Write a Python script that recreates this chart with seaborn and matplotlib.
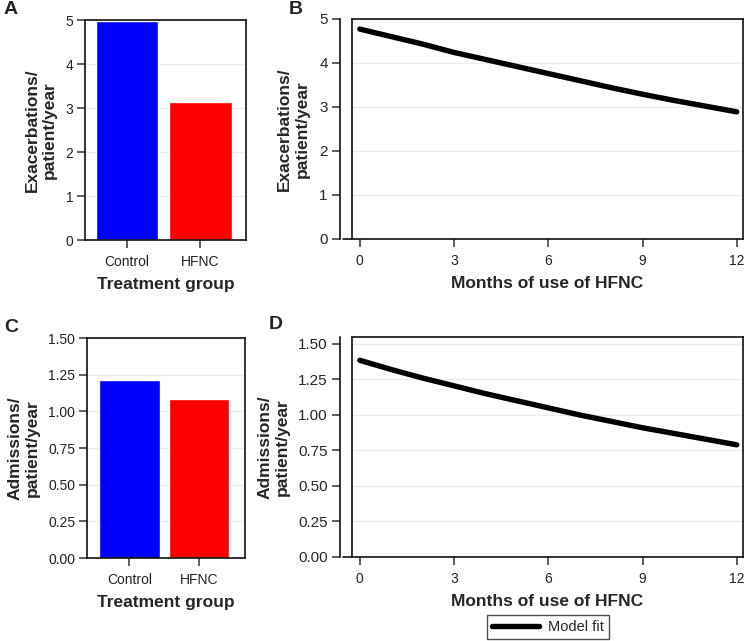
import numpy as np
import pandas as pd
import matplotlib
matplotlib.use("Agg")
import matplotlib.pyplot as plt
import seaborn as sns

# ---- data ----
groups = ["Control", "HFNC"]
exacerbations = [4.97, 3.13]
admissions = [1.215, 1.082]
months = [0, 1, 2, 3, 4, 5, 6, 7, 8, 9, 10, 11, 12]
exac_fit = [4.77, 4.60, 4.43, 4.24, 4.08, 3.92, 3.76, 3.60, 3.44, 3.29, 3.15, 3.02, 2.89]
adm_fit = [1.385, 1.32, 1.26, 1.205, 1.15, 1.10, 1.05, 1.00, 0.955, 0.91, 0.87, 0.83, 0.79]
bar_colors = ["#0000FF", "#FF0000"]
exac_ticks = [0, 1, 2, 3, 4, 5]
adm_ticks = [0.00, 0.25, 0.50, 0.75, 1.00, 1.25, 1.50]
month_ticks = [0, 3, 6, 9, 12]

sns.set_theme(style="white")
plt.rcParams["font.family"] = ["Liberation Sans", "DejaVu Sans"]

W, H = 747, 641
fig = plt.figure(figsize=(W / 100, H / 100), dpi=100)


def rect(l, t, r, b):
    return [l / W, 1 - b / H, (r - l) / W, (b - t) / H]


axA = fig.add_axes(rect(85, 20, 246, 240))
axB = fig.add_axes(rect(352, 19, 743, 239))
axC = fig.add_axes(rect(87, 338, 245, 558))
axD = fig.add_axes(rect(352, 337, 743, 557))

tick_fs = 10
lab_fs = 12.5


def style(ax, yticks, fmt, offset_left=False):
    for s in ax.spines.values():
        s.set_visible(True)
        s.set_color("#111111")
        s.set_linewidth(1.2)
    ax.set_yticks(yticks)
    ax.set_yticklabels([fmt.format(v) for v in yticks], fontsize=tick_fs, color="#222222")
    ax.tick_params(axis="both", which="major", length=5.5, width=1.1, color="#333333",
                   left=True, bottom=True)
    ax.tick_params(axis="y", pad=3)
    ax.tick_params(axis="x", pad=5)
    ax.yaxis.grid(True, color="#ebebeb", linewidth=1.0)
    ax.xaxis.grid(False)
    ax.set_axisbelow(True)
    if offset_left:
        ax.spines["left"].set_position(("outward", 9))
        ax.plot([0, 0], [0, 1], transform=ax.transAxes, color="#111111", lw=1.2,
                clip_on=False, zorder=5)
        ax.plot([-9 / 391, 0], [0, 0], transform=ax.transAxes, color="#111111", lw=1.2,
                clip_on=False, zorder=5)


# ---- Panel A ----
dfA = pd.DataFrame({"group": groups, "value": exacerbations})
sns.barplot(data=dfA, x="group", y="value", hue="group", palette=bar_colors,
            width=0.85, ax=axA, legend=False, saturation=1)
axA.set_xlim(-0.57, 1.62)
axA.set_ylim(0, 5)
style(axA, exac_ticks, "{:d}")
axA.set_xticks([0, 1])
axA.set_xticklabels(groups, fontsize=tick_fs, color="#222222")
axA.set_xlabel("Treatment group", fontsize=lab_fs, fontweight="bold", labelpad=6)
axA.set_ylabel("Exacerbations/\npatient/year", fontsize=lab_fs, fontweight="bold", labelpad=6)

# ---- Panel B ----
dfB = pd.DataFrame({"month": months, "fit": exac_fit})
sns.lineplot(data=dfB, x="month", y="fit", color="black", lw=3.9, ax=axB)
axB.set_xlim(-0.25, 12.2)
axB.set_ylim(0, 5)
style(axB, exac_ticks, "{:d}", offset_left=True)
axB.set_xticks(month_ticks)
axB.set_xticklabels([str(m) for m in month_ticks], fontsize=tick_fs, color="#222222")
axB.set_xlabel("Months of use of HFNC", fontsize=lab_fs, fontweight="bold", labelpad=6)
axB.set_ylabel("Exacerbations/\npatient/year", fontsize=lab_fs, fontweight="bold", labelpad=7)

# ---- Panel C ----
dfC = pd.DataFrame({"group": groups, "value": admissions})
sns.barplot(data=dfC, x="group", y="value", hue="group", palette=bar_colors,
            width=0.87, ax=axC, legend=False, saturation=1)
axC.set_xlim(-0.61, 1.66)
axC.set_ylim(0, 1.5)
style(axC, adm_ticks, "{:.2f}")
axC.set_xticks([0, 1])
axC.set_xticklabels(groups, fontsize=tick_fs, color="#222222")
axC.set_xlabel("Treatment group", fontsize=lab_fs, fontweight="bold", labelpad=6)
axC.set_ylabel("Admissions/\npatient/year", fontsize=lab_fs, fontweight="bold", labelpad=6)

# ---- Panel D ----
dfD = pd.DataFrame({"month": months, "fit": adm_fit})
sns.lineplot(data=dfD, x="month", y="fit", color="black", lw=3.9, ax=axD, label="Model fit")
axD.set_xlim(-0.25, 12.2)
axD.set_ylim(0, 1.549)
style(axD, adm_ticks, "{:.2f}", offset_left=True)
axD.set_xticks(month_ticks)
axD.set_xticklabels([str(m) for m in month_ticks], fontsize=tick_fs, color="#222222")
axD.set_xlabel("Months of use of HFNC", fontsize=lab_fs, fontweight="bold", labelpad=6)
axD.set_ylabel("Admissions/\npatient/year", fontsize=lab_fs, fontweight="bold", labelpad=6)
handles, labels = axD.get_legend_handles_labels()
axD.get_legend().remove()
leg = fig.legend(handles, labels, loc="center", bbox_to_anchor=(548 / W, 1 - 627 / H),
                 frameon=True, fancybox=False, edgecolor="#222222", fontsize=10.5,
                 handlelength=3.2, borderpad=0.35, handletextpad=0.6)
leg.get_frame().set_linewidth(1.0)

# ---- panel letters ----
for letter, x, y in [("A", 4, 10), ("B", 289, 9), ("C", 4, 328), ("D", 269, 325)]:
    fig.text(x / W, 1 - y / H, letter, fontsize=14, fontweight="bold", va="center", ha="left")

fig.savefig("out.png", dpi=100)
